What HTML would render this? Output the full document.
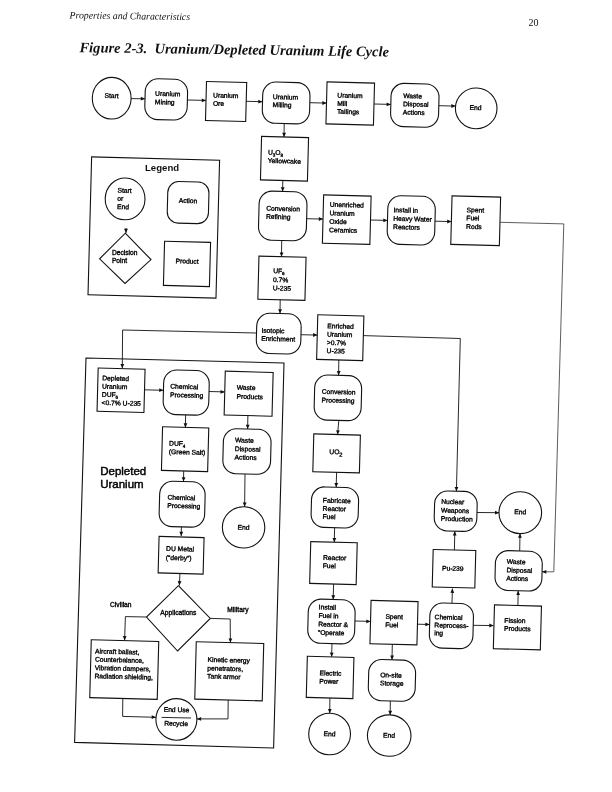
<!DOCTYPE html>
<html><head><meta charset="utf-8"><style>
html,body{margin:0;padding:0;background:#fff;}
body{width:612px;height:792px;overflow:hidden;position:relative;}
svg{position:absolute;left:0;top:0;will-change:transform;}
.s{fill:none;stroke:#111;stroke-width:1.1;}
.l{fill:none;stroke:#111;stroke-width:0.9;}
.a{fill:#111;stroke:none;}
.thin .l{stroke:#333;stroke-width:0.8px;}
.t{font-family:"Liberation Sans",sans-serif;font-size:6.7px;fill:#000;stroke:#000;stroke-width:0.35px;}
.sub{font-size:4.5px;}
.sub2{font-size:5.6px;}
.lg{font-family:"Liberation Sans",sans-serif;font-size:9.6px;font-weight:bold;fill:#111;}
.du{font-family:"Liberation Sans",sans-serif;font-size:11.5px;fill:#000;stroke:#000;stroke-width:0.45px;}
.hd{font-family:"Liberation Serif",serif;font-size:10px;font-style:italic;fill:#111;}
.pg{font-family:"Liberation Serif",serif;font-size:10px;fill:#111;}
.ti{font-family:"Liberation Serif",serif;font-size:14.5px;font-style:italic;font-weight:bold;fill:#111;}
</style></head><body>
<svg width="612" height="792" viewBox="0 0 612 792">
<text x="69.6" y="18.4" transform="rotate(0.8 69.6 18.4)" class="hd" textLength="120.4" lengthAdjust="spacingAndGlyphs">Properties and Characteristics</text>
<text x="528.4" y="26.0" class="pg">20</text>
<text x="79.4" y="52.2" transform="rotate(0.8 79.4 52.2)" class="ti" textLength="309.6" lengthAdjust="spacingAndGlyphs">Figure 2-3.&#160; Uranium/Depleted Uranium Life Cycle</text>
<g transform="rotate(1.5 111.7 98.2)"><ellipse cx="111.7" cy="98.2" rx="19.4" ry="20.8" class="s"/><text x="111.5" y="98.0" class="t" text-anchor="middle">Start</text></g>
<path d="M131.0 98.6 L145.0 98.8" class="l"/>
<polygon points="145.0,98.8 140.8,100.6 140.8,96.8" class="a"/>
<g transform="rotate(1.5 166.2 99.4)"><rect x="145.0" y="79.0" width="42.4" height="40.8" rx="13" ry="13" class="s"/><text x="155.0" y="96.0" class="t">Uranium</text><text x="155.0" y="104.5" class="t">Mining</text></g>
<path d="M187.4 100.0 L206.0 100.4" class="l"/>
<polygon points="206.0,100.4 201.8,102.2 201.8,98.4" class="a"/>
<g transform="rotate(1.5 226.1 101.5)"><rect x="206.0" y="82.0" width="40.2" height="39.0" class="s"/><text x="213.0" y="97.8" class="t">Uranium</text><text x="213.0" y="106.0" class="t">Ore</text></g>
<path d="M246.2 101.3 L262.5 101.7" class="l"/>
<polygon points="262.5,101.7 258.3,103.5 258.3,99.7" class="a"/>
<g transform="rotate(1.5 286.1 102.9)"><rect x="262.5" y="82.3" width="47.3" height="41.3" rx="13" ry="13" class="s"/><text x="272.7" y="99.4" class="t">Uranium</text><text x="272.7" y="107.3" class="t">Milling</text></g>
<path d="M309.8 102.7 L326.5 103.1" class="l"/>
<polygon points="326.5,103.1 322.3,104.9 322.3,101.1" class="a"/>
<g transform="rotate(1.5 350.2 103.5)"><rect x="326.5" y="82.5" width="47.5" height="42.0" class="s"/><text x="337.2" y="97.8" class="t">Uranium</text><text x="337.2" y="106.0" class="t">Mill</text><text x="337.2" y="114.0" class="t">Tailings</text></g>
<path d="M374.0 104.0 L390.8 104.4" class="l"/>
<polygon points="390.8,104.4 386.6,106.2 386.6,102.4" class="a"/>
<g transform="rotate(1.5 414.8 105.3)"><rect x="390.8" y="83.7" width="48.0" height="43.2" rx="13" ry="13" class="s"/><text x="403.0" y="98.3" class="t">Waste</text><text x="403.0" y="106.5" class="t">Disposal</text><text x="403.0" y="114.8" class="t">Actions</text></g>
<path d="M438.8 105.7 L455.5 106.1" class="l"/>
<polygon points="455.5,106.1 451.3,107.9 451.3,104.1" class="a"/>
<g transform="rotate(1.5 476.2 108.4)"><ellipse cx="476.2" cy="108.4" rx="20.8" ry="20.4" class="s"/><text x="475.5" y="110.0" class="t" text-anchor="middle">End</text></g>
<path d="M284.2 123.6 L284.0 137.0" class="l"/>
<polygon points="284.0,137.0 282.2,132.8 286.0,132.8" class="a"/>
<g transform="rotate(1.5 284.5 158.8)"><rect x="261.0" y="137.0" width="47.0" height="43.5" class="s"/><text x="267.8" y="155.0" class="t">U<tspan class="sub" dy="1.8">3</tspan><tspan dy="-1.8">​</tspan>O<tspan class="sub" dy="1.8">8</tspan><tspan dy="-1.8">​</tspan></text><text x="267.8" y="163.3" class="t">Yellowcake</text></g>
<path d="M282.8 180.5 L282.6 191.4" class="l"/>
<polygon points="282.6,191.4 280.8,187.2 284.6,187.2" class="a"/>
<g transform="rotate(1.5 282.8 215.9)"><rect x="258.8" y="191.4" width="47.9" height="49.1" rx="13" ry="13" class="s"/><text x="266.0" y="211.0" class="t">Conversion</text><text x="266.0" y="219.2" class="t">Refining</text></g>
<path d="M306.7 218.7 L323.0 219.1" class="l"/>
<polygon points="323.0,219.1 318.8,220.9 318.8,217.1" class="a"/>
<g transform="rotate(1.5 346.8 219.7)"><rect x="323.0" y="195.5" width="47.5" height="48.3" class="s"/><text x="329.3" y="207.2" class="t">Unenriched</text><text x="329.3" y="215.8" class="t">Uranium</text><text x="329.3" y="224.2" class="t">Oxide</text><text x="329.3" y="232.6" class="t">Ceramics</text></g>
<path d="M370.5 220.0 L387.5 220.4" class="l"/>
<polygon points="387.5,220.4 383.3,222.2 383.3,218.4" class="a"/>
<g transform="rotate(1.5 411.2 220.3)"><rect x="387.5" y="196.0" width="47.5" height="48.7" rx="13" ry="13" class="s"/><text x="393.3" y="212.6" class="t">Install in</text><text x="393.3" y="221.2" class="t">Heavy Water</text><text x="393.3" y="229.6" class="t">Reactors</text></g>
<path d="M435.0 221.2 L451.4 221.6" class="l"/>
<polygon points="451.4,221.6 447.2,223.4 447.2,219.6" class="a"/>
<g transform="rotate(1.5 475.7 220.8)"><rect x="451.4" y="196.5" width="48.6" height="48.5" class="s"/><text x="466.3" y="212.4" class="t">Spent</text><text x="466.3" y="220.4" class="t">Fuel</text><text x="466.3" y="229.0" class="t">Rods</text></g>
<g class="thin">
<path d="M500.0 222.3 L563.8 223.9 L553.8 571.8 L542.1 571.8" class="l"/>
<polygon points="542.1,571.8 546.3,569.9 546.3,573.7" class="a"/>
</g>
<g transform="rotate(1.5 153.8 227.5)"><rect x="89.8" y="158.5" width="128" height="138" class="s"/></g>
<text x="145" y="170.7" class="lg">Legend</text>
<g transform="rotate(1.5 125.1 198.9)"><ellipse cx="125.1" cy="198.9" rx="19.9" ry="20.9" class="s"/><text x="117.3" y="192.8" class="t">Start</text><text x="117.3" y="200.9" class="t">or</text><text x="117.3" y="209.2" class="t">End</text></g>
<g transform="rotate(1.5 188.1 202.6)"><rect x="167.5" y="181.8" width="41.2" height="41.6" rx="11" ry="11" class="s"/><text x="188.0" y="203.0" class="t" text-anchor="middle">Action</text></g>
<path d="M126.0 228.0 L126.0 233.0" class="l"/>
<polygon points="126.0,233.0 124.1,228.8 127.9,228.8" class="a"/>
<polygon points="125.3,233.2 151.0,259.6 125.0,283.5 99.6,258.8" class="s"/><text x="111.9" y="255.3" class="t">Decision</text><text x="111.9" y="262.6" class="t">Point</text>
<g transform="rotate(1.5 187.0 263.9)"><rect x="164.0" y="241.8" width="46.0" height="44.2" class="s"/><text x="187.0" y="263.5" class="t" text-anchor="middle">Product</text></g>
<path d="M281.7 240.5 L281.5 256.7" class="l"/>
<polygon points="281.5,256.7 279.7,252.5 283.5,252.5" class="a"/>
<g transform="rotate(1.5 281.9 278.2)"><rect x="258.4" y="256.7" width="47.1" height="43.1" class="s"/><text x="273.0" y="273.3" class="t">UF<tspan class="sub" dy="1.8">6</tspan><tspan dy="-1.8">​</tspan></text><text x="273.0" y="282.2" class="t">0.7%</text><text x="273.0" y="290.6" class="t">U-235</text></g>
<path d="M280.2 299.8 L280.0 313.5" class="l"/>
<polygon points="280.0,313.5 278.2,309.3 282.0,309.3" class="a"/>
<g transform="rotate(1.5 278.8 333.6)"><rect x="256.5" y="313.5" width="44.5" height="40.2" rx="13" ry="13" class="s"/><text x="261.4" y="333.2" class="t">Isotopic</text><text x="261.4" y="341.2" class="t">Enrichment</text></g>
<path d="M256.5 333.0 L122.6 330.0 L122.3 368.3" class="l"/>
<polygon points="122.3,368.3 120.4,364.1 124.2,364.1" class="a"/>
<path d="M301.0 334.7 L317.3 335.1" class="l"/>
<polygon points="317.3,335.1 313.1,336.9 313.1,333.1" class="a"/>
<g transform="rotate(1.5 340.2 337.6)"><rect x="317.2" y="315.3" width="46.1" height="44.7" class="s"/><text x="327.0" y="328.5" class="t">Enriched</text><text x="327.0" y="336.8" class="t">Uranium</text><text x="327.0" y="345.2" class="t">&gt;0.7%</text><text x="327.0" y="353.4" class="t">U-235</text></g>
<path d="M363.3 335.6 L460.3 338.5 L456.4 491.2" class="l"/>
<polygon points="456.4,491.2 454.6,487.0 458.4,487.0" class="a"/>
<polygon points="86,358 284,363 273.6,748 74.6,742.4" class="s"/>
<text x="100.2" y="475.3" class="du">Depleted</text><text x="100.2" y="487.7" class="du">Uranium</text>
<g transform="rotate(1.5 121.0 390.2)"><rect x="97.6" y="368.6" width="46.9" height="43.3" class="s"/><text x="102.0" y="380.8" class="t">Depleted</text><text x="102.0" y="389.0" class="t">Uranium</text><text x="102.0" y="397.2" class="t">DUF<tspan class="sub" dy="1.8">6</tspan><tspan dy="-1.8">​</tspan></text><text x="102.0" y="405.4" class="t">&lt;0.7% U-235</text></g>
<path d="M144.5 389.8 L163.4 390.3" class="l"/>
<polygon points="163.4,390.3 159.2,392.1 159.3,388.3" class="a"/>
<g transform="rotate(1.5 186.2 392.6)"><rect x="163.4" y="370.3" width="45.6" height="44.6" rx="13" ry="13" class="s"/><text x="170.2" y="389.0" class="t">Chemical</text><text x="170.2" y="397.5" class="t">Processing</text></g>
<path d="M209.0 391.5 L224.7 391.9" class="l"/>
<polygon points="224.7,391.9 220.5,393.7 220.5,389.9" class="a"/>
<g transform="rotate(1.5 248.7 393.7)"><rect x="224.7" y="371.8" width="47.9" height="43.8" class="s"/><text x="236.6" y="390.0" class="t">Waste</text><text x="236.6" y="399.0" class="t">Products</text></g>
<path d="M247.9 415.6 L247.6 429.0" class="l"/>
<polygon points="247.6,429.0 245.8,424.8 249.6,424.8" class="a"/>
<g transform="rotate(1.5 246.9 451.5)"><rect x="223.1" y="429.0" width="47.7" height="45.0" rx="13" ry="13" class="s"/><text x="234.8" y="442.7" class="t">Waste</text><text x="234.8" y="451.4" class="t">Disposal</text><text x="234.8" y="459.8" class="t">Actions</text></g>
<path d="M245.0 474.0 L244.6 506.8" class="l"/>
<polygon points="244.6,506.8 242.8,502.6 246.6,502.6" class="a"/>
<g transform="rotate(1.5 243.6 527.4)"><ellipse cx="243.6" cy="527.4" rx="21.2" ry="20.6" class="s"/><text x="243.5" y="529.6" class="t" text-anchor="middle">End</text></g>
<path d="M185.6 414.9 L185.4 427.4" class="l"/>
<polygon points="185.4,427.4 183.6,423.2 187.4,423.2" class="a"/>
<g transform="rotate(1.5 185.1 449.2)"><rect x="162.0" y="427.4" width="46.2" height="43.6" class="s"/><text x="169.0" y="446.0" class="t">DUF<tspan class="sub" dy="1.8">4</tspan><tspan dy="-1.8">​</tspan></text><text x="169.0" y="454.4" class="t">(Green Salt)</text></g>
<path d="M183.7 471.0 L183.5 481.5" class="l"/>
<polygon points="183.5,481.5 181.7,477.3 185.5,477.3" class="a"/>
<g transform="rotate(1.5 182.2 504.2)"><rect x="159.4" y="481.5" width="45.5" height="45.4" rx="13" ry="13" class="s"/><text x="167.3" y="500.0" class="t">Chemical</text><text x="167.3" y="508.2" class="t">Processing</text></g>
<path d="M181.4 526.9 L181.2 536.0" class="l"/>
<polygon points="181.2,536.0 179.4,531.8 183.2,531.8" class="a"/>
<g transform="rotate(1.5 181.1 555.2)"><rect x="158.6" y="537.0" width="45.0" height="36.5" class="s"/><text x="166.0" y="551.2" class="t">DU Metal</text><text x="166.0" y="560.3" class="t">(“derby”)</text></g>
<path d="M179.9 573.5 L179.4 585.4" class="l"/>
<polygon points="179.4,585.4 177.7,581.1 181.5,581.3" class="a"/>
<polygon points="178.4,585.7 210.3,618.4 177.6,651.0 146.5,617.0" class="s"/><text x="178.4" y="614.9" class="t" text-anchor="middle">Applications</text>
<path d="M146.5 617.0 L125.4 616.6 L124.6 640.4" class="l"/>
<polygon points="124.6,640.4 122.8,636.1 126.6,636.3" class="a"/>
<path d="M210.3 618.4 L230.2 619.0 L230.4 642.6" class="l"/>
<polygon points="230.4,642.6 228.5,638.4 232.3,638.4" class="a"/>
<text x="110.0" y="606.6" class="t">Civilian</text><text x="227.3" y="611.8" class="t">Military</text>
<g transform="rotate(1.5 124.2 669.5)"><rect x="90.5" y="640.6" width="67.5" height="57.9" class="s"/><text x="94.7" y="654.2" class="t">Aircraft ballast,</text><text x="94.7" y="662.4" class="t">Counterbalance,</text><text x="94.7" y="670.8" class="t">Vibration dampers,</text><text x="94.7" y="679.0" class="t">Radiation shielding,</text></g>
<g transform="rotate(1.5 229.2 671.3)"><rect x="195.5" y="642.6" width="67.5" height="57.4" class="s"/><text x="207.3" y="662.4" class="t">Kinetic energy</text><text x="207.3" y="671.0" class="t">penetrators,</text><text x="207.3" y="679.0" class="t">Tank armor</text></g>
<g transform="rotate(1.5 176.4 719.4)"><ellipse cx="176.4" cy="719.4" rx="20.5" ry="20.8" class="s"/><text x="176.3" y="712.0" class="t" text-anchor="middle">End Use</text><text x="176.3" y="725.8" class="t" text-anchor="middle">Recycle</text></g>
<path d="M161.6 717.4 L191 718.0" class="l"/>
<path d="M122.8 698.5 L122.6 716.4 L155.9 717.3" class="l"/>
<polygon points="155.9,717.3 151.7,719.1 151.8,715.3" class="a"/>
<path d="M228.2 700.0 L228.0 718.9 L196.9 718.9" class="l"/>
<polygon points="196.9,718.9 201.1,717.0 201.1,720.8" class="a"/>
<path d="M338.8 360.0 L338.6 375.3" class="l"/>
<polygon points="338.6,375.3 336.8,371.1 340.6,371.1" class="a"/>
<g transform="rotate(1.5 337.9 397.9)"><rect x="314.4" y="375.3" width="47.0" height="45.1" rx="13" ry="13" class="s"/><text x="321.6" y="394.2" class="t">Conversion</text><text x="321.6" y="402.7" class="t">Processing</text></g>
<path d="M338.8 420.4 L337.6 434.5" class="l"/>
<polygon points="337.6,434.5 336.1,430.2 339.8,430.5" class="a"/>
<g transform="rotate(1.5 336.6 453.4)"><rect x="313.3" y="434.5" width="46.6" height="37.8" class="s"/><text x="329.4" y="454.2" class="t">UO<tspan class="sub2" dy="2.2">2</tspan></text></g>
<path d="M336.6 472.3 L336.2 487.2" class="l"/>
<polygon points="336.2,487.2 334.4,483.0 338.2,483.1" class="a"/>
<g transform="rotate(1.5 334.9 507.5)"><rect x="311.3" y="487.2" width="47.1" height="40.5" rx="13" ry="13" class="s"/><text x="322.7" y="502.9" class="t">Fabricate</text><text x="322.7" y="511.1" class="t">Reactor</text><text x="322.7" y="519.2" class="t">Fuel</text></g>
<path d="M334.6 527.7 L334.3 542.2" class="l"/>
<polygon points="334.3,542.2 332.5,538.0 336.3,538.0" class="a"/>
<g transform="rotate(1.5 333.4 563.1)"><rect x="310.2" y="542.2" width="46.5" height="41.8" class="s"/><text x="322.8" y="560.1" class="t">Reactor</text><text x="322.8" y="568.3" class="t">Fuel</text></g>
<path d="M333.6 584.0 L333.2 599.4" class="l"/>
<polygon points="333.2,599.4 331.4,595.2 335.2,595.3" class="a"/>
<g transform="rotate(1.5 331.4 621.5)"><rect x="308.0" y="599.4" width="46.9" height="44.2" rx="13" ry="13" class="s"/><text x="318.3" y="609.6" class="t">Install</text><text x="318.3" y="618.1" class="t">Fuel in</text><text x="318.3" y="626.6" class="t">Reactor &amp;</text><text x="318.3" y="635.1" class="t">“Operate</text></g>
<path d="M354.9 621.0 L370.5 621.4" class="l"/>
<polygon points="370.5,621.4 366.3,623.2 366.4,619.4" class="a"/>
<path d="M332.0 643.6 L331.6 656.8" class="l"/>
<polygon points="331.6,656.8 329.8,652.5 333.6,652.7" class="a"/>
<g transform="rotate(1.5 330.1 677.4)"><rect x="306.8" y="656.8" width="46.6" height="41.2" class="s"/><text x="319.4" y="675.5" class="t">Electric</text><text x="319.4" y="683.7" class="t">Power</text></g>
<path d="M329.9 698.0 L329.7 713.2" class="l"/>
<polygon points="329.7,713.2 327.9,709.0 331.7,709.0" class="a"/>
<g transform="rotate(1.5 329.6 734.0)"><ellipse cx="329.6" cy="734.0" rx="20.9" ry="20.8" class="s"/><text x="329.5" y="736.2" class="t" text-anchor="middle">End</text></g>
<g transform="rotate(1.5 394.0 622.6)"><rect x="370.5" y="601.0" width="47.0" height="43.3" class="s"/><text x="385.3" y="619.0" class="t">Spent</text><text x="385.3" y="627.3" class="t">Fuel</text></g>
<path d="M417.5 624.2 L429.6 624.5" class="l"/>
<polygon points="429.6,624.5 425.4,626.3 425.4,622.5" class="a"/>
<path d="M392.3 644.3 L392.0 659.8" class="l"/>
<polygon points="392.0,659.8 390.2,655.6 394.0,655.6" class="a"/>
<g transform="rotate(1.5 391.9 680.4)"><rect x="368.5" y="659.8" width="46.9" height="41.2" rx="13" ry="13" class="s"/><text x="380.1" y="677.5" class="t">On-site</text><text x="380.1" y="685.6" class="t">Storage</text></g>
<path d="M390.3 701.0 L390.2 714.9" class="l"/>
<polygon points="390.2,714.9 388.3,710.7 392.1,710.7" class="a"/>
<g transform="rotate(1.5 389.2 735.6)"><ellipse cx="389.2" cy="735.6" rx="21.8" ry="20.7" class="s"/><text x="389.0" y="737.6" class="t" text-anchor="middle">End</text></g>
<g transform="rotate(1.5 451.4 625.8)"><rect x="429.6" y="603.2" width="43.6" height="45.2" rx="13" ry="13" class="s"/><text x="434.4" y="619.7" class="t">Chemical</text><text x="434.4" y="627.8" class="t">Reprocess-</text><text x="434.4" y="635.6" class="t">ing</text></g>
<path d="M473.2 625.3 L493.5 625.6" class="l"/>
<polygon points="493.5,625.6 489.3,627.4 489.3,623.6" class="a"/>
<path d="M452.0 603.2 L452.4 588.6" class="l"/>
<polygon points="452.4,588.6 454.2,592.9 450.4,592.7" class="a"/>
<g transform="rotate(1.5 454.0 568.8)"><rect x="432.7" y="550.0" width="42.6" height="37.5" class="s"/><text x="442.0" y="570.8" class="t">Pu-239</text></g>
<path d="M454.4 550.0 L454.8 531.2" class="l"/>
<polygon points="454.8,531.2 456.6,535.4 452.8,535.4" class="a"/>
<g transform="rotate(1.5 455.7 511.2)"><rect x="434.4" y="491.2" width="42.6" height="40.0" rx="13" ry="13" class="s"/><text x="441.0" y="504.2" class="t">Nuclear</text><text x="441.0" y="512.9" class="t">Weapons</text><text x="441.0" y="521.2" class="t">Production</text></g>
<path d="M477.0 512.5 L499.2 512.7" class="l"/>
<polygon points="499.2,512.7 495.0,514.6 495.0,510.8" class="a"/>
<g transform="rotate(1.5 520.3 512.7)"><ellipse cx="520.3" cy="512.7" rx="21.3" ry="20.9" class="s"/><text x="520.3" y="514.2" class="t" text-anchor="middle">End</text></g>
<g transform="rotate(1.5 518.6 570.8)"><rect x="495.2" y="550.9" width="46.9" height="39.9" rx="13" ry="13" class="s"/><text x="506.5" y="564.2" class="t">Waste</text><text x="506.5" y="572.6" class="t">Disposal</text><text x="506.5" y="580.9" class="t">Actions</text></g>
<path d="M519.7 550.9 L520.0 533.6" class="l"/>
<polygon points="520.0,533.6 521.8,537.8 518.0,537.8" class="a"/>
<g transform="rotate(1.5 517.4 627.4)"><rect x="493.9" y="605.5" width="47.0" height="43.8" class="s"/><text x="504.2" y="623.0" class="t">Fission</text><text x="504.2" y="631.0" class="t">Products</text></g>
<path d="M517.9 605.5 L518.2 590.8" class="l"/>
<polygon points="518.2,590.8 520.0,595.0 516.2,595.0" class="a"/>
</svg>
</body></html>
